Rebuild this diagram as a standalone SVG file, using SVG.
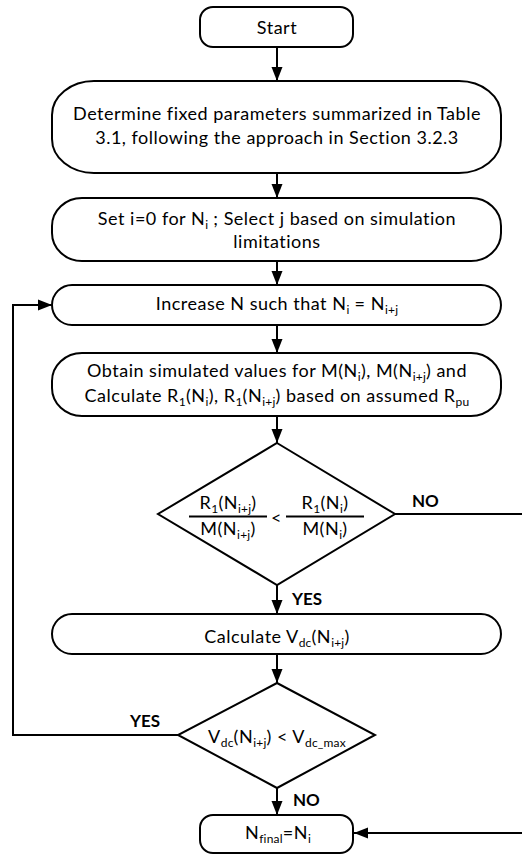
<svg xmlns="http://www.w3.org/2000/svg" width="522" height="859" viewBox="0 0 522 859">
<style>
.box{fill:#fff;stroke:#000;stroke-width:2}
.ln{fill:none;stroke:#000;stroke-width:2}
.t{font-family:Lato,"Open Sans",sans-serif;font-size:18px;letter-spacing:0.5px;fill:#000;text-anchor:middle}
.lb{font-family:Lato,"Open Sans",sans-serif;font-size:17px;font-weight:bold;fill:#000}
.s{font-size:12px;letter-spacing:0.2px}
</style>
<defs>
<marker id="ah" markerUnits="userSpaceOnUse" markerWidth="14" markerHeight="12" refX="14" refY="6" orient="auto">
<path d="M0,0.5 L14,6 L0,11.5 z" fill="#000"/>
</marker>
</defs>
<rect width="522" height="859" fill="#fff"/>
<g id="connectors">
<line class="ln" x1="277" y1="47" x2="277" y2="81" marker-end="url(#ah)"/>
<line class="ln" x1="277" y1="173" x2="277" y2="198" marker-end="url(#ah)"/>
<line class="ln" x1="277" y1="261" x2="277" y2="285" marker-end="url(#ah)"/>
<line class="ln" x1="277" y1="325" x2="277" y2="353" marker-end="url(#ah)"/>
<line class="ln" x1="277" y1="416" x2="277" y2="443" marker-end="url(#ah)"/>
<line class="ln" x1="277" y1="585" x2="277" y2="614" marker-end="url(#ah)"/>
<line class="ln" x1="277" y1="654" x2="277" y2="683" marker-end="url(#ah)"/>
<line class="ln" x1="277" y1="788" x2="277" y2="815" marker-end="url(#ah)"/>
<polyline class="ln" points="178,735 13,735 13,305 52,305" marker-end="url(#ah)"/>
<polyline class="ln" points="395,514 524,514 524,833 354,833" marker-end="url(#ah)"/>
<text class="lb" x="412" y="507">NO</text>
<text class="lb" x="292" y="605">YES</text>
<text class="lb" x="130" y="727">YES</text>
<text class="lb" x="293" y="806">NO</text>
</g>
<g id="start">
<rect class="box" x="200" y="7" width="153" height="40" rx="13" ry="13"/>
<text class="t" x="277" y="34">Start</text>
</g>
<g id="determine">
<rect class="box" x="52" y="81" width="449" height="92" rx="42" ry="34"/>
<text class="t" x="277" y="120">Determine fixed parameters summarized in Table</text>
<text class="t" x="277" y="144">3.1, following the approach in Section 3.2.3</text>
</g>
<g id="set">
<rect class="box" x="52" y="198" width="449" height="63" rx="30" ry="28"/>
<text class="t" x="277" y="225">Set i=0 for N<tspan class="s" dy="4">i</tspan><tspan dy="-4"> ; Select j based on simulation</tspan></text>
<text class="t" x="277" y="248">limitations</text>
</g>
<g id="increase">
<rect class="box" x="52" y="285" width="449" height="40" rx="20" ry="20"/>
<text class="t" x="277" y="310">Increase N such that N<tspan class="s" dy="4">i</tspan><tspan dy="-4"> = N</tspan><tspan class="s" dy="4">i+j</tspan></text>
</g>
<g id="obtain">
<rect class="box" x="52" y="353" width="449" height="63" rx="30" ry="28"/>
<text class="t" x="277" y="377">Obtain simulated values for M(N<tspan class="s" dy="4">i</tspan><tspan dy="-4">), M(N</tspan><tspan class="s" dy="4">i+j</tspan><tspan dy="-4">) and</tspan></text>
<text class="t" x="277" y="402">Calculate R<tspan class="s" dy="4">1</tspan><tspan dy="-4">(N</tspan><tspan class="s" dy="4">i</tspan><tspan dy="-4">), R</tspan><tspan class="s" dy="4">1</tspan><tspan dy="-4">(N</tspan><tspan class="s" dy="4">i+j</tspan><tspan dy="-4">) based on assumed R</tspan><tspan class="s" dy="4">pu</tspan></text>
</g>
<g id="decision1">
<polygon class="box" points="277,443 395,514 277,585 158,514"/>
<text class="t" x="228" y="509">R<tspan class="s" dy="4">1</tspan><tspan dy="-4">(N</tspan><tspan class="s" dy="4">i+j</tspan><tspan dy="-4">)</tspan></text>
<line class="ln" x1="189" y1="516.5" x2="267" y2="516.5" stroke-width="1.5"/>
<text class="t" x="228" y="535">M(N<tspan class="s" dy="4">i+j</tspan><tspan dy="-4">)</tspan></text>
<text class="t" x="276.5" y="524">&lt;</text>
<text class="t" x="325" y="509">R<tspan class="s" dy="4">1</tspan><tspan dy="-4">(N</tspan><tspan class="s" dy="4">i</tspan><tspan dy="-4">)</tspan></text>
<line class="ln" x1="286" y1="516.5" x2="364" y2="516.5" stroke-width="1.5"/>
<text class="t" x="325" y="535">M(N<tspan class="s" dy="4">i</tspan><tspan dy="-4">)</tspan></text>
</g>
<g id="calculate">
<rect class="box" x="52" y="614" width="449" height="40" rx="20" ry="20"/>
<text class="t" x="277" y="643">Calculate V<tspan class="s" dy="4">dc</tspan><tspan dy="-4">(N</tspan><tspan class="s" dy="4">i+j</tspan><tspan dy="-4">)</tspan></text>
</g>
<g id="decision2">
<polygon class="box" points="277,683 375,735 277,788 178,735"/>
<text class="t" x="277" y="743">V<tspan class="s" dy="4">dc</tspan><tspan dy="-4">(N</tspan><tspan class="s" dy="4">i+j</tspan><tspan dy="-4">) &lt; V</tspan><tspan class="s" dy="4">dc_max</tspan></text>
</g>
<g id="final">
<rect class="box" x="200" y="815" width="153" height="38" rx="13" ry="13"/>
<text class="t" x="278" y="839">N<tspan class="s" dy="4">final</tspan><tspan dy="-4">=N</tspan><tspan class="s" dy="4">i</tspan></text>
</g>
</svg>
